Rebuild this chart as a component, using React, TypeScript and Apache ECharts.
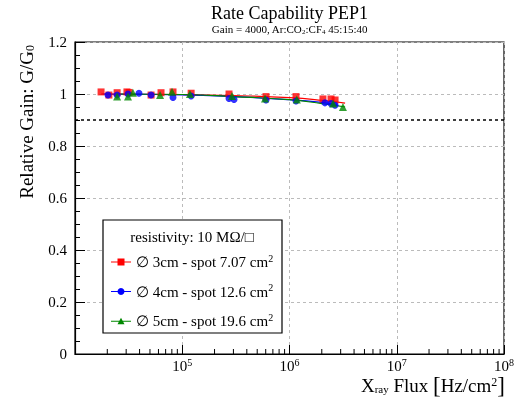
import React, { useEffect, useRef } from "react";
import * as echarts from "echarts";

const FONT = "Liberation Serif";

const redFlux = [1.75e4, 2.07e4, 2.47e4, 3.05e4, 3.19e4, 5.12e4, 6.34e4, 8.2e4, 1.21e5, 2.73e5, 6.04e5, 1.15e6, 2.05e6, 2.44e6, 2.66e6];
const redGain = [1.008, 0.996, 1.005, 1.008, 1.006, 0.996, 1.005, 1.008, 1.003, 1.0, 0.99, 0.99, 0.981, 0.981, 0.977];

const blueFlux = [2.03e4, 2.47e4, 3.12e4, 3.95e4, 5.12e4, 8.2e4, 1.21e5, 2.73e5, 3.04e5, 6.04e5, 1.15e6, 2.14e6, 2.44e6, 2.66e6];
const blueGain = [0.996, 0.996, 1.0, 1.003, 0.996, 0.987, 0.992, 0.983, 0.979, 0.977, 0.973, 0.966, 0.963, 0.957];

const greenFlux = [2.47e4, 3.12e4, 3.47e4, 6.21e4, 8.02e4, 1.18e5, 2.91e5, 5.91e5, 1.17e6, 2.55e6, 3.15e6];
const greenGain = [0.99, 0.99, 1.005, 0.996, 1.009, 1.0, 0.992, 0.983, 0.979, 0.963, 0.95];

const redFitFlux = [1.75e4, 1e5, 3e5, 1e6, 2e6, 3.3e6];
const redFitGain = [1.0, 0.998, 0.994, 0.986, 0.976, 0.965];
const blueFitFlux = [1.8e4, 1e5, 3e5, 1e6, 2e6, 2.8e6];
const blueFitGain = [1.0, 0.997, 0.99, 0.978, 0.968, 0.96];
const greenFitFlux = [2.4e4, 1e5, 3e5, 1e6, 2e6, 3.3e6];
const greenFitGain = [1.0, 0.998, 0.99, 0.978, 0.963, 0.95];

const seriesNames = ["s3", "s4", "s5"];
const legendLabels = [
  "\u2205 3cm - spot 7.07 cm{sup|2}",
  "\u2205 4cm - spot 12.6 cm{sup|2}",
  "\u2205 5cm - spot 19.6 cm{sup|2}",
];
const colors = ["#ff0000", "#0000ff", "#008800"];
const threshold = 0.9;
const yTicks = [0, 0.2, 0.4, 0.6, 0.8, 1, 1.2];

const zip = (a: number[], b: number[]) => a.map((v, i) => [v, b[i]]);

export default function App() {
  const ref = useRef<HTMLDivElement>(null);
  useEffect(() => {
    if (!ref.current) return;
    const chart = echarts.init(ref.current, null, { renderer: "svg" });
    const gridLine = { show: true, lineStyle: { color: "#bbbbbb", type: [3, 3] as any, width: 1 } };
    const icons = [
      "path://M0,4.5H20V5.5H0Z M6.5,1.5H13.5V8.5H6.5Z",
      "path://M0,4.5H20V5.5H0Z M10,1.5A3.5,3.5,0,1,1,9.99,1.5Z",
      "path://M0,4.5H20V5.5H0Z M10,1.5L13.5,8H6.5Z",
    ];
    const symbols = ["rect", "circle", "triangle"];
    const dataSets = [zip(redFlux, redGain), zip(blueFlux, blueGain), zip(greenFlux, greenGain)];
    const fits = [zip(redFitFlux, redFitGain), zip(blueFitFlux, blueFitGain), zip(greenFitFlux, greenFitGain)];
    const series: any[] = [];
    for (let i = 0; i < 3; i++) {
      series.push({
        type: "line",
        name: seriesNames[i],
        data: fits[i],
        smooth: true,
        symbol: "none",
        lineStyle: { color: colors[i], width: 1.2 },
        itemStyle: { color: colors[i] },
        z: 3,
      });
      series.push({
        type: "scatter",
        name: seriesNames[i],
        data: dataSets[i],
        symbol: symbols[i],
        symbolSize: i === 2 ? 8 : 7,
        itemStyle: { color: colors[i] },
        z: 4,
      });
    }
    series.push({
      type: "line",
      data: [],
      markLine: {
        silent: true,
        symbol: "none",
        label: { show: false },
        lineStyle: { color: "#000", type: [3, 3], width: 1.5 },
        data: [{ yAxis: threshold }],
      },
    });

    const option: any = {
      animation: false,
      grid: { left: 75, right: 14, top: 42, bottom: 44, show: true, borderColor: "#000", borderWidth: 1.2 },
      xAxis: {
        type: "log",
        min: 1e4,
        max: 1e8,
        logBase: 10,
        axisLine: { show: true, lineStyle: { color: "#000", width: 1.2 } },
        axisTick: { show: true, inside: true, length: 9, lineStyle: { color: "#000" } },
        splitLine: gridLine,
        axisLabel: {
          margin: 3,
          color: "#000",
          fontFamily: FONT,
          fontSize: 15,
          formatter: (v: number) => {
            const e = Math.round(Math.log10(v));
            if (e === 4) return "";
            return "10{sup|" + e + "}";
          },
          rich: { sup: { fontSize: 10, fontFamily: FONT, color: "#000", verticalAlign: "top", padding: [0, 0, 8, 0] } },
        },
      },
      yAxis: {
        type: "value",
        min: 0,
        max: 1.2,
        interval: 0.2,
        axisLine: { show: true, lineStyle: { color: "#000", width: 1.2 } },
        axisTick: { show: true, inside: true, length: 10, lineStyle: { color: "#000" } },
        minorTick: { show: true, splitNumber: 4, length: 5, lineStyle: { color: "#000" } },
        splitLine: gridLine,
        axisLabel: {
          margin: 8,
          color: "#000",
          fontFamily: FONT,
          fontSize: 15,
          formatter: (v: number) => (yTicks.some((t) => Math.abs(t - v) < 1e-9) ? String(Math.round(v * 10) / 10) : ""),
        },
      },
      legend: {
        left: 106,
        top: 248,
        orient: "vertical",
        itemGap: 13,
        itemWidth: 20,
        itemHeight: 10,
        data: seriesNames.map((n, i) => ({ name: n, icon: icons[i], itemStyle: { color: colors[i] } })),
        formatter: (n: string) => legendLabels[seriesNames.indexOf(n)],
        textStyle: {
          fontFamily: FONT,
          fontSize: 15,
          color: "#000",
          rich: { sup: { fontSize: 10, fontFamily: FONT, color: "#000", verticalAlign: "top", padding: [0, 0, 8, 0] } },
        },
        z: 6,
      },
      series,
    };
    chart.setOption(option);

    const minorTicks: any[] = [];
    for (let e = 4; e < 8; e++) {
      for (let k = 2; k <= 9; k++) {
        const v = k * Math.pow(10, e);
        const px = chart.convertToPixel({ xAxisIndex: 0 }, v) as number;
        minorTicks.push({
          type: "line",
          z: 5,
          shape: { x1: px, y1: 354, x2: px, y2: 349 },
          style: { stroke: "#000", lineWidth: 1 },
        });
      }
    }

    chart.setOption({
      graphic: [
        ...minorTicks,
        {
          type: "rect",
          z: 5,
          shape: { x: 103, y: 220, width: 179, height: 113 },
          style: { fill: "#fff", stroke: "#000", lineWidth: 1.2 },
        },
        {
          type: "text",
          z: 6,
          x: 192,
          y: 237,
          style: { text: "resistivity: 10 M\u03a9/\u25a1", font: `15px "${FONT}"`, fill: "#000", align: "center", verticalAlign: "middle" },
        },
        {
          type: "text",
          x: 289.5,
          y: 13,
          style: { text: "Rate Capability PEP1", font: `18px "${FONT}"`, fill: "#000", align: "center", verticalAlign: "middle" },
        },
        {
          type: "text",
          x: 289.5,
          y: 29,
          style: {
            text: "Gain = 4000, Ar:CO{sub|2}:CF{sub|4} 45:15:40",
            font: `11px "${FONT}"`,
            fill: "#000",
            align: "center",
            verticalAlign: "middle",
            rich: { sub: { fontSize: 7, fontFamily: FONT, fill: "#000", verticalAlign: "bottom", padding: [6, 0, 0, 0] } },
          },
        },
        {
          type: "text",
          x: 26,
          y: 45,
          rotation: Math.PI / 2,
          style: {
            text: "Relative Gain: G/G{sub|0}",
            font: `19px "${FONT}"`,
            fill: "#000",
            align: "right",
            verticalAlign: "middle",
            rich: { sub: { fontSize: 12, fontFamily: FONT, fill: "#000", verticalAlign: "bottom", padding: [8, 0, 0, 0] } },
          },
        },
        {
          type: "text",
          x: 505,
          y: 385,
          style: {
            text: "X{sub|ray} Flux {br|[}Hz/cm{sup|2}{br|]}",
            font: `19px "${FONT}"`,
            fill: "#000",
            align: "right",
            verticalAlign: "middle",
            lineHeight: 18,
            rich: {
              br: { fontSize: 23, lineHeight: 18, fontFamily: FONT, fill: "#000" },
              sub: { fontSize: 11, lineHeight: 18, fontFamily: FONT, fill: "#000", verticalAlign: "bottom", padding: [4, 0, 0, 0] },
              sup: { fontSize: 12, lineHeight: 18, fontFamily: FONT, fill: "#000", verticalAlign: "top", padding: [0, 0, 4, 0] },
            },
          },
        },
      ],
    });
    return () => chart.dispose();
  }, []);
  return <div ref={ref} style={{ position: "fixed", left: 0, top: 0, width: 518, height: 398 }} />;
}
